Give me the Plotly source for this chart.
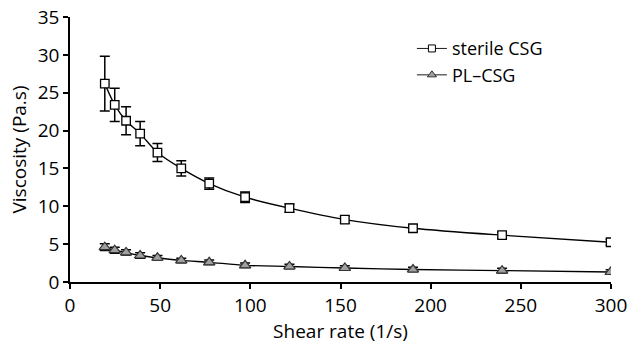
import plotly.graph_objects as go

shear_rate = [19.3, 24.8, 31.1, 38.9, 48.5, 61.7, 77.2, 97.1, 121.7, 152.4, 190.2, 239.6, 299.8]
sterile_visc = [26.2, 23.4, 21.3, 19.6, 17.1, 15.0, 13.0, 11.2, 9.75, 8.25, 7.1, 6.18, 5.25]
sterile_err = [3.6, 2.2, 1.85, 1.6, 1.2, 1.0, 0.75, 0.7, 0.55, 0.45, 0.4, 0.4, 0.4]
pl_visc = [4.6, 4.2, 3.9, 3.5, 3.2, 2.85, 2.6, 2.2, 2.05, 1.85, 1.65, 1.5, 1.32]
pl_err = [0.45, 0.4, 0.35, 0.35, 0.3, 0.3, 0.3, 0.3, 0.3, 0.3, 0.3, 0.3, 0.3]
series_names = ["sterile CSG", "PL\u2013CSG"]
x_ticks = [0, 50, 100, 150, 200, 250, 300]
y_ticks = [0, 5, 10, 15, 20, 25, 30, 35]

FONT = "Open Sans"
FS = 19

line_style = dict(color="black", width=1.3, shape="spline", smoothing=0.8)
sq_marker = dict(symbol="square", size=8.5, color="white", line=dict(color="black", width=1.3))
tri_marker = dict(symbol="triangle-up", size=10, color="#a0a0a0", line=dict(color="#333333", width=1.2))

fig = go.Figure()
fig.add_trace(go.Scatter(
    x=shear_rate, y=sterile_visc, name=series_names[0], showlegend=False,
    mode="lines+markers", line=line_style, marker=sq_marker,
    error_y=dict(type="data", array=sterile_err, visible=True, color="black", thickness=1.5, width=5),
))
fig.add_trace(go.Scatter(
    x=shear_rate, y=pl_visc, name=series_names[1], showlegend=False,
    mode="lines+markers", line=line_style, marker=tri_marker,
    error_y=dict(type="data", array=pl_err, visible=True, color="black", thickness=1.5, width=5),
))
# legend-only entries (without error-bar glyphs)
fig.add_trace(go.Scatter(x=[None], y=[None], name=series_names[0], mode="lines+markers",
                         line=dict(color="black", width=0.9),
                         marker=dict(symbol="square", size=7, color="white", line=dict(color="black", width=1))))
fig.add_trace(go.Scatter(x=[None], y=[None], name=series_names[1], mode="lines+markers",
                         line=dict(color="black", width=0.9),
                         marker=dict(symbol="triangle-up", size=8, color="#a0a0a0", line=dict(color="#333333", width=1))))

axis_common = dict(
    showgrid=False, zeroline=False, showline=True, linecolor="black", linewidth=1.5,
    ticks="outside", ticklen=5, tickwidth=1.5, tickcolor="black", automargin=False,
    tickfont=dict(family=FONT, size=FS, color="black"),
)
fig.update_xaxes(range=[0, 300], tickvals=x_ticks,
                 title=dict(text="Shear rate (1/s)", font=dict(family=FONT, size=FS, color="black"), standoff=1),
                 **axis_common)
fig.update_yaxes(range=[0, 35], tickvals=y_ticks,
                 title=dict(text="Viscosity (Pa.s)", font=dict(family=FONT, size=FS, color="black"), standoff=6),
                 **axis_common)

fig.update_layout(
    width=631, height=349,
    margin=dict(l=70, r=20, t=17, b=67),
    plot_bgcolor="white", paper_bgcolor="white",
    font=dict(family=FONT, size=FS, color="black"),
    legend=dict(x=0.632, y=0.95, xanchor="left", yanchor="top",
                font=dict(family=FONT, size=18, color="black"),
                bgcolor="rgba(0,0,0,0)", tracegroupgap=0, itemsizing="trace"),
)

fig.write_html("out.html", config={"displayModeBar": False},
               post_script="document.body.style.margin='0';document.body.style.padding='0';")
